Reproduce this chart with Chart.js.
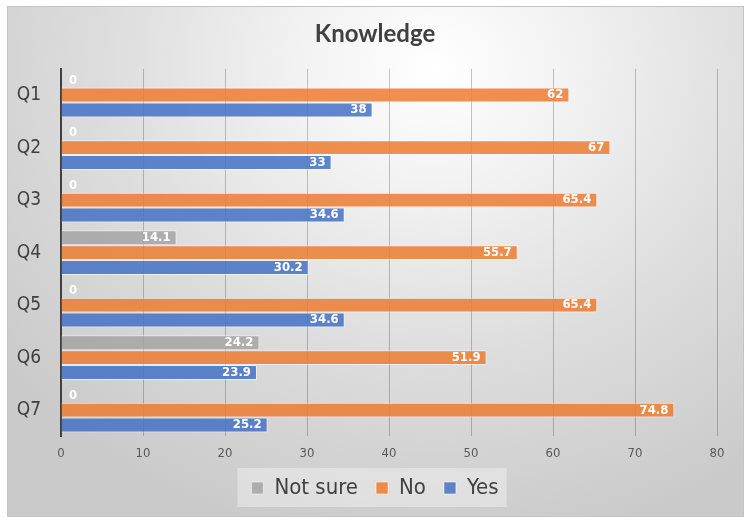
<!DOCTYPE html>
<html>
<head>
<meta charset="utf-8">
<script src="https://cdn.jsdelivr.net/npm/chart.js@4.4.1/dist/chart.umd.min.js"></script>
<style>
  html, body { margin: 0; padding: 0; width: 750px; height: 524px; background: #ffffff; overflow: hidden; }
  #frame {
    position: absolute; left: 7px; top: 6px; width: 735px; height: 509px;
    border: 1px solid #c4c4c4;
    background: radial-gradient(ellipse 75% 95% at 58% 12%, #ffffff 0%, #f2f2f2 25%, #dddddd 60%, #cacaca 100%);
  }
  #wrap { position: absolute; left: 0; top: 0; width: 750px; height: 524px; }
</style>
</head>
<body>
<div id="frame"></div>
<div id="wrap"><canvas id="knowledgeChart" width="750" height="524"></canvas></div>
<script>
// Data
const questions = ['Q1', 'Q2', 'Q3', 'Q4', 'Q5', 'Q6', 'Q7'];
const notSure = [0, 0, 0, 14.1, 0, 24.2, 0];
const no = [62, 67, 65.4, 55.7, 65.4, 51.9, 74.8];
const yes = [38, 33, 34.6, 30.2, 34.6, 23.9, 25.2];
const xTicks = [0, 10, 20, 30, 40, 50, 60, 70, 80];

const narrow = '"Liberation Sans Narrow", "DejaVu Sans Condensed", sans-serif';

// Center title and legend on the whole canvas and lift the legend a bit
const placeBlocks = {
  id: 'placeBlocks',
  afterLayout(chart) {
    const t = chart.titleBlock;
    if (t) {
      t.left = 0;
      t.right = chart.width;
      t.width = chart.width;
    }
    const lg = chart.legend;
    if (lg) {
      lg.left = 0;
      lg.right = chart.width;
      lg.width = chart.width;
      lg.top -= 11;
      lg.bottom -= 11;
    }
  }
};

// Data labels drawn inside the bar end (white, bold)
const barLabels = {
  id: 'barLabels',
  afterDatasetsDraw(chart) {
    const ctx = chart.ctx;
    ctx.save();
    ctx.font = 'bold 13px ' + narrow;
    ctx.fillStyle = '#ffffff';
    ctx.textBaseline = 'middle';
    chart.data.datasets.forEach((ds, i) => {
      const meta = chart.getDatasetMeta(i);
      meta.data.forEach((bar, j) => {
        const v = ds.data[j];
        const txt = String(v);
        if (v === 0) {
          ctx.textAlign = 'left';
          ctx.fillText(txt, bar.base + 8, bar.y);
        } else {
          ctx.textAlign = 'right';
          ctx.fillText(txt, bar.x - 6, bar.y);
        }
      });
    });
    ctx.restore();
  }
};

// Light box behind the legend
const legendBox = {
  id: 'legendBox',
  beforeDraw(chart) {
    const lg = chart.legend;
    if (!lg || !lg.legendHitBoxes.length) return;
    const boxes = lg.legendHitBoxes;
    const left = boxes[0].left - 14;
    const right = boxes[boxes.length - 1].left + boxes[boxes.length - 1].width + 8;
    const cy = boxes[0].top + boxes[0].height / 2;
    const ctx = chart.ctx;
    ctx.save();
    ctx.fillStyle = 'rgba(255, 255, 255, 0.35)';
    ctx.fillRect(left, cy - 20, right - left, 39);
    ctx.restore();
  }
};

const ctx = document.getElementById('knowledgeChart').getContext('2d');
const knowledgeChart = new Chart(ctx, {
  type: 'bar',
  data: {
    labels: questions,
    datasets: [{
      label: 'Not sure',
      data: notSure,
      backgroundColor: 'rgba(165, 165, 165, 0.85)',
      borderColor: 'rgba(255, 255, 255, 0.55)',
      borderWidth: 1,
      categoryPercentage: 0.85,
      barPercentage: 1.0
    }, {
      label: 'No',
      data: no,
      backgroundColor: 'rgba(237, 125, 49, 0.85)',
      borderColor: 'rgba(255, 255, 255, 0.55)',
      borderWidth: 1,
      categoryPercentage: 0.85,
      barPercentage: 1.0
    }, {
      label: 'Yes',
      data: yes,
      backgroundColor: 'rgba(68, 114, 196, 0.85)',
      borderColor: 'rgba(255, 255, 255, 0.55)',
      borderWidth: 1,
      categoryPercentage: 0.85,
      barPercentage: 1.0
    }]
  },
  options: {
    indexAxis: 'y',
    responsive: false,
    animation: false,
    devicePixelRatio: 1,
    layout: {
      padding: { top: 10, right: 33, bottom: 4, left: 0 }
    },
    plugins: {
      title: {
        display: true,
        text: 'Knowledge',
        color: '#404040',
        font: { family: 'Lato, "Open Sans", sans-serif', size: 24, weight: 'bold' },
        padding: { top: 10, bottom: 20 }
      },
      legend: {
        position: 'bottom',
        labels: {
          color: '#404040',
          boxWidth: 12,
          boxHeight: 12,
          padding: 18,
          font: { family: narrow, size: 22 }
        }
      },
      tooltip: { enabled: false }
    },
    scales: {
      x: {
        min: 0,
        max: 80,
        afterBuildTicks: (scale) => { scale.ticks = xTicks.map(v => ({ value: v })); },
        grid: {
          color: 'rgba(0, 0, 0, 0.22)',
          drawTicks: false
        },
        border: { display: false },
        ticks: {
          color: '#595959',
          padding: 9,
          font: { family: narrow, size: 13 }
        }
      },
      y: {
        grid: { display: false, drawTicks: false },
        border: { display: true, color: '#404040', width: 2 },
        afterFit: (scale) => { scale.width = 61; },
        ticks: {
          color: '#404040',
          padding: 20,
          font: { family: narrow, size: 19 }
        }
      }
    }
  },
  plugins: [placeBlocks, legendBox, barLabels]
});
</script>
</body>
</html>
